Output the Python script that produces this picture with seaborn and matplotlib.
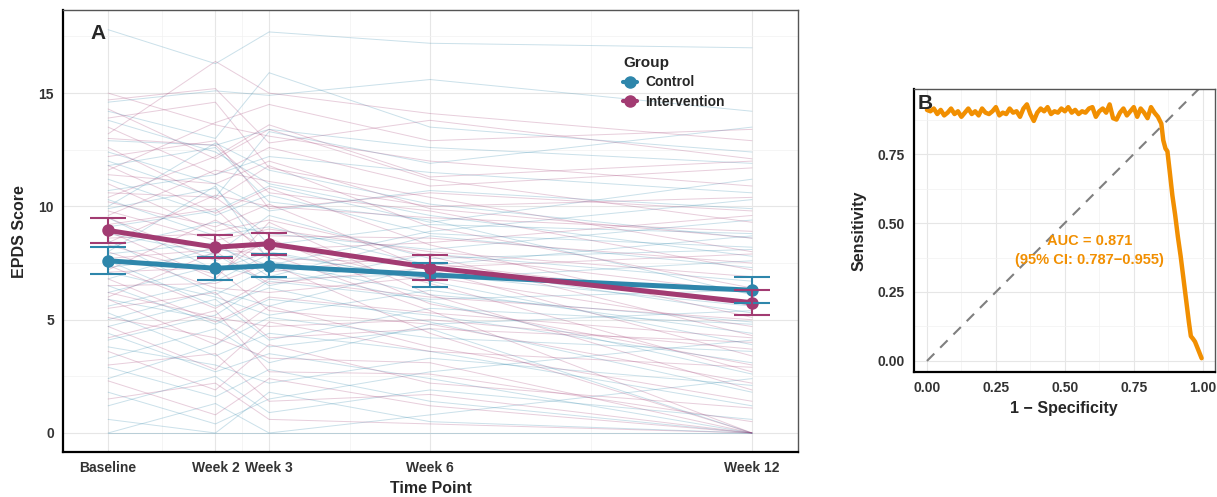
import pandas as pd
import numpy as np
import matplotlib
matplotlib.use("Agg")
import matplotlib.pyplot as plt
from matplotlib.lines import Line2D
from matplotlib.ticker import MultipleLocator, FixedLocator
import seaborn as sns

sns.set_style("white")
plt.rcParams['font.family'] = ['Liberation Sans', 'DejaVu Sans']

# time points
weeks = [0, 2, 3, 6, 12]
week_labels = ["Baseline", "Week 2", "Week 3", "Week 6", "Week 12"]
groups = ["Control", "Intervention"]
colors = {"Control": "#2E86AB", "Intervention": "#A23B72"}

# individual trajectories (Baseline, W2, W3, W6, W12)
control_scores = [
    [17.8, 16.3, 17.7, 17.2, 17.0], [14.6, 15.1, 14.9, 15.6, 14.2], [14.2, 13.0, 15.9, 13.5, 12.4],
    [13.8, 12.4, 11.0, 9.6, 7.8], [12.9, 12.7, 13.4, 12.6, 11.9], [12.4, 11.0, 9.8, 10.7, 9.9],
    [11.8, 12.6, 10.2, 9.4, 6.1], [11.2, 9.6, 10.5, 8.8, 8.2], [10.7, 11.4, 12.2, 11.5, 10.6],
    [10.3, 8.7, 9.1, 7.4, 5.3], [9.9, 10.8, 8.3, 9.2, 8.8], [9.5, 7.2, 8.0, 6.7, 3.9],
    [9.1, 9.8, 10.9, 9.3, 11.2], [8.8, 7.9, 6.5, 7.9, 6.7], [8.5, 6.1, 7.3, 5.8, 2.6],
    [8.2, 9.3, 8.8, 8.1, 9.4], [7.9, 8.4, 6.9, 8.7, 7.3], [7.6, 5.6, 6.4, 4.9, 1.8],
    [7.3, 7.9, 9.6, 7.7, 8.1], [7.1, 6.0, 5.2, 6.3, 4.4], [6.8, 8.2, 7.4, 8.9, 10.3],
    [6.5, 4.8, 5.9, 5.2, 3.1], [6.2, 7.4, 6.8, 7.0, 5.6], [5.9, 5.0, 3.8, 4.6, 0.0],
    [5.6, 6.7, 7.9, 6.8, 7.6], [5.3, 3.4, 4.4, 3.6, 1.2], [5.0, 6.3, 5.6, 7.4, 8.7],
    [4.7, 5.9, 4.1, 5.5, 4.8], [4.4, 2.7, 3.5, 2.4, 0.0], [4.1, 5.2, 6.7, 5.9, 6.3],
    [3.8, 3.0, 2.2, 3.3, 2.1], [3.3, 4.6, 3.1, 4.8, 5.4], [2.9, 1.6, 2.8, 1.4, 0.0],
    [2.4, 3.9, 5.1, 4.2, 3.6], [1.8, 0.4, 1.5, 2.7, 4.1], [1.2, 2.5, 0.9, 1.9, 0.6],
    [0.6, 0.0, 1.8, 0.5, 0.0], [0.0, 1.3, 0.0, 0.8, 2.4], [0.0, 0.0, 0.0, 0.0, 0.0],
    [12.0, 10.4, 13.3, 11.9, 13.5], [10.0, 12.8, 11.6, 10.1, 8.6], [8.0, 10.9, 7.6, 6.1, 4.9],
]
intervention_scores = [
    [15.0, 13.6, 13.1, 12.0, 10.9], [14.7, 15.2, 12.8, 13.8, 12.1], [14.3, 12.1, 13.4, 11.2, 9.3],
    [13.9, 14.6, 11.7, 10.4, 8.0], [13.5, 11.4, 12.6, 10.9, 11.7], [13.0, 12.7, 10.6, 9.8, 7.2],
    [12.6, 10.3, 11.8, 9.1, 6.4], [12.2, 12.9, 9.9, 10.6, 9.8], [11.8, 9.7, 10.8, 8.3, 5.1],
    [11.4, 11.0, 12.0, 9.9, 8.6], [11.0, 8.9, 9.4, 7.8, 4.3], [10.6, 10.4, 8.7, 8.6, 7.5],
    [10.2, 9.1, 10.1, 7.2, 3.4], [9.8, 8.5, 9.0, 8.0, 6.9], [9.5, 7.6, 8.4, 6.6, 2.7],
    [9.2, 9.9, 7.7, 7.5, 5.8], [8.9, 6.8, 9.3, 6.1, 1.9], [8.6, 8.8, 7.1, 7.9, 6.2],
    [8.3, 7.0, 8.6, 5.7, 3.0], [8.0, 6.4, 6.2, 6.9, 4.7], [7.7, 8.1, 7.9, 5.4, 0.0],
    [7.4, 5.5, 6.8, 6.0, 5.0], [7.1, 7.3, 5.4, 4.8, 2.2], [6.8, 4.9, 6.0, 5.3, 4.2],
    [6.5, 6.6, 7.5, 4.4, 0.0], [6.2, 5.1, 4.7, 5.0, 3.7], [5.9, 3.9, 5.6, 3.8, 1.4],
    [5.5, 6.2, 4.2, 4.6, 4.0], [5.1, 4.2, 3.3, 3.1, 0.0], [4.7, 2.8, 4.9, 3.6, 2.9],
    [4.2, 5.4, 2.7, 2.6, 0.5], [3.6, 1.9, 3.9, 2.2, 1.1], [3.0, 3.5, 1.4, 1.7, 0.0],
    [2.3, 0.8, 2.4, 1.2, 0.0], [1.5, 2.2, 0.6, 0.4, 0.0], [13.2, 16.4, 15.0, 14.1, 12.9],
    [11.6, 13.7, 14.5, 12.9, 13.4], [10.4, 12.2, 13.6, 11.3, 12.0], [9.6, 11.6, 11.1, 10.0, 10.4],
    [8.4, 10.5, 10.0, 9.5, 8.9], [7.2, 9.4, 8.1, 8.4, 9.6], [6.0, 8.0, 6.6, 7.3, 7.9],
]

# group means with 95% CI
control_mean = [7.6, 7.27, 7.38, 6.98, 6.3]
control_lo = [7.02, 6.74, 6.87, 6.45, 5.72]
control_hi = [8.2, 7.78, 7.9, 7.5, 6.9]
interv_mean = [8.94, 8.2, 8.35, 7.3, 5.75]
interv_lo = [8.37, 7.73, 7.84, 6.77, 5.22]
interv_hi = [9.47, 8.72, 8.82, 7.85, 6.3]

# ROC curve
fpr = [0.000, 0.0125, 0.025, 0.0375, 0.050, 0.0625, 0.075, 0.0875, 0.100, 0.1125, 0.125, 0.1375,
       0.150, 0.1625, 0.175, 0.1875, 0.200, 0.2125, 0.225, 0.2375, 0.250, 0.2625, 0.275, 0.2875,
       0.300, 0.3125, 0.325, 0.3375, 0.350, 0.3625, 0.375, 0.3875, 0.400, 0.4125, 0.425, 0.4375,
       0.450, 0.4625, 0.475, 0.4875, 0.500, 0.5125, 0.525, 0.5375, 0.550, 0.5625, 0.575, 0.5875,
       0.600, 0.6125, 0.625, 0.6375, 0.650, 0.6625, 0.675, 0.6875, 0.700, 0.7125, 0.725, 0.7375,
       0.750, 0.7625, 0.775, 0.7875, 0.800, 0.8125, 0.825, 0.8375,
       0.850, 0.857, 0.865, 0.872, 0.880, 0.890, 0.900, 0.910, 0.920, 0.930, 0.940, 0.950,
       0.957, 0.965, 0.972, 0.980, 0.988, 0.996]
tpr = [0.91, 0.905, 0.915, 0.895, 0.91, 0.89, 0.90, 0.915, 0.895, 0.905, 0.885, 0.90,
       0.915, 0.895, 0.905, 0.89, 0.915, 0.90, 0.895, 0.905, 0.92, 0.89, 0.90, 0.895,
       0.915, 0.90, 0.905, 0.885, 0.915, 0.93, 0.895, 0.87, 0.90, 0.915, 0.905, 0.92,
       0.895, 0.905, 0.90, 0.915, 0.905, 0.92, 0.90, 0.91, 0.895, 0.905, 0.90, 0.915,
       0.92, 0.885, 0.905, 0.915, 0.90, 0.93, 0.88, 0.875, 0.90, 0.915, 0.89, 0.905,
       0.92, 0.885, 0.915, 0.90, 0.88, 0.92, 0.90, 0.885,
       0.86, 0.80, 0.77, 0.76, 0.69, 0.60, 0.53, 0.45, 0.38, 0.30, 0.22, 0.14,
       0.09, 0.08, 0.07, 0.05, 0.03, 0.01]
auc_text = "AUC = 0.871\n(95% CI: 0.787\u22120.955)"

# long format for the spaghetti lines
rows = []
for grp, scores in [("Control", control_scores), ("Intervention", intervention_scores)]:
    for i, s in enumerate(scores):
        for w, v in zip(weeks, s):
            rows.append({"id": grp + str(i), "Group": grp, "week": w, "score": v})
indiv = pd.DataFrame(rows)

summ = pd.DataFrame({
    "Group": ["Control"] * 5 + ["Intervention"] * 5,
    "week": weeks + weeks,
    "mean": control_mean + interv_mean,
    "lo": control_lo + interv_lo,
    "hi": control_hi + interv_hi,
})

fig = plt.figure(figsize=(12.17, 4.97), dpi=100)
axA = fig.add_axes([0.0518, 0.0905, 0.604, 0.889])
axB = fig.add_axes([0.751, 0.2515, 0.247, 0.569])

# ---- Panel A ----
sns.lineplot(data=indiv, x="week", y="score", hue="Group", units="id", estimator=None,
             palette=colors, alpha=0.25, lw=0.7, legend=False, ax=axA)
sns.lineplot(data=summ, x="week", y="mean", hue="Group", palette=colors, lw=3.6,
             marker="o", markersize=9, markeredgewidth=0, legend=False, ax=axA)
for g in groups:
    d = summ[summ.Group == g]
    axA.errorbar(d["week"], d["mean"], yerr=[d["mean"] - d["lo"], d["hi"] - d["mean"]],
                 fmt="none", ecolor=colors[g], elinewidth=1.5, capsize=13, capthick=1.5)

axA.set_xlim(-0.84, 12.86)
axA.set_ylim(-0.84, 18.66)
axA.xaxis.set_major_locator(FixedLocator(weeks))
axA.xaxis.set_minor_locator(FixedLocator([1, 2.5, 4.5, 9]))
axA.set_xticklabels(week_labels)
axA.yaxis.set_major_locator(MultipleLocator(5))
axA.yaxis.set_minor_locator(MultipleLocator(2.5))
axA.set_xlabel("Time Point", fontsize=11.5, fontweight="bold", labelpad=4)
axA.set_ylabel("EPDS Score", fontsize=11.5, fontweight="bold", labelpad=8)
axA.text(0.038, 0.948, "A", transform=axA.transAxes, fontsize=15, fontweight="bold",
         ha="left", va="center")

handles = [Line2D([], [], color=colors[g], lw=3, marker="o", markersize=8) for g in groups]
leg = axA.legend(handles, groups, title="Group", loc="upper left", bbox_to_anchor=(0.745, 0.925),
                 frameon=False, handlelength=1.0, handletextpad=0.6, labelspacing=0.4,
                 prop={"weight": "bold", "size": 10})
leg.get_title().set_fontweight("bold")
leg.get_title().set_fontsize(11)
leg._legend_box.align = "left"

# ---- Panel B ----
axB.plot([0, 1.2], [0, 1.2], ls=(0, (5, 4)), color="#7f7f7f", lw=1.5, zorder=2)
sns.lineplot(x=fpr, y=tpr, sort=False, color="#F18F01", lw=3.2, ax=axB, zorder=3)
axB.set_xlim(-0.047, 1.043)
axB.set_ylim(-0.04, 0.985)
axB.xaxis.set_major_locator(MultipleLocator(0.25))
axB.xaxis.set_minor_locator(MultipleLocator(0.125))
axB.yaxis.set_major_locator(FixedLocator([0, 0.25, 0.5, 0.75]))
axB.yaxis.set_minor_locator(FixedLocator([0.125, 0.375, 0.625, 0.875]))
axB.xaxis.set_major_formatter(matplotlib.ticker.FormatStrFormatter("%.2f"))
axB.yaxis.set_major_formatter(matplotlib.ticker.FormatStrFormatter("%.2f"))
axB.set_xlabel("1 \u2212 Specificity", fontsize=11.5, fontweight="bold", labelpad=4)
axB.set_ylabel("Sensitivity", fontsize=11.5, fontweight="bold", labelpad=8)
axB.text(0.59, 0.40, auc_text, color="#F18F01", fontsize=10.5, fontweight="bold",
         ha="center", va="center", linespacing=1.5)
axB.text(0.012, 0.95, "B", transform=axB.transAxes, fontsize=15, fontweight="bold",
         ha="left", va="center")

for ax in (axA, axB):
    ax.grid(True, which="major", color="#e6e6e6", lw=0.8)
    ax.grid(True, which="minor", color="#f2f2f2", lw=0.5)
    ax.set_axisbelow(True)
    for s in ("top", "right"):
        ax.spines[s].set_color("#555555")
        ax.spines[s].set_linewidth(1.0)
    for s in ("left", "bottom"):
        ax.spines[s].set_color("black")
        ax.spines[s].set_linewidth(1.6)
    ax.tick_params(axis="both", which="major", length=3, width=0.8, color="#333333",
                   labelsize=10, labelcolor="#333333")
    ax.tick_params(which="minor", length=0)
    for lab in ax.get_xticklabels() + ax.get_yticklabels():
        lab.set_fontweight("bold")

fig.savefig("out.png", dpi=100)
